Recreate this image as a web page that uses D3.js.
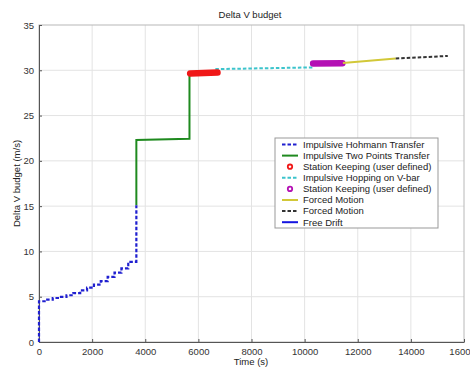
<!DOCTYPE html>
<html>
<head>
<meta charset="utf-8">
<script src="https://cdn.jsdelivr.net/npm/d3@7"></script>
<style>
  html, body { margin: 0; padding: 0; background: #fff; }
  svg { display: block; font-family: "Liberation Sans", Arial, sans-serif; }
</style>
</head>
<body>
<svg id="chart" width="470" height="369"></svg>
<script>
// Delta-V budget accumulated over the mission timeline (time in s, budget in m/s)

const xTicks = [0, 2000, 4000, 6000, 8000, 10000, 12000, 14000, 16000];
const xTickLabels = ["0", "2000", "4000", "6000", "8000", "10000", "12000", "14000", "1600"];
const yTicks = [0, 5, 10, 15, 20, 25, 30, 35];
const yTickLabels = ["0", "5", "10", "15", "20", "25", "30", "35"];

// Impulsive Hohmann transfer: staircase of small burns, then the final jump
const hohmannT = [0, 0, 258, 517, 775, 1034, 1292, 1551, 1809, 2068, 2326, 2585, 2843, 3102, 3360, 3665, 3665];
const hohmannV = [0, 4.5, 4.68, 4.86, 4.98, 5.16, 5.4, 5.7, 6.0, 6.34, 6.72, 7.2, 7.67, 8.12, 8.85, 8.85, 15.1];

// Impulsive two points transfer
const twoPointT = [3665, 3665, 5665, 5665];
const twoPointV = [15.1, 22.3, 22.45, 29.65];

// Station keeping (user defined), first hold
const keep1T = [5690, 6720];
const keep1V = [29.65, 29.75];

// Impulsive hopping on V-bar
const hoppingT = [6640, 10350];
const hoppingV = [30.13, 30.32];

// Station keeping (user defined), second hold
const keep2T = [10320, 11420];
const keep2V = [30.76, 30.78];

// Forced motion, first leg
const forced1T = [11440, 13430];
const forced1V = [30.8, 31.3];

// Forced motion, second leg
const forced2T = [13430, 15390];
const forced2V = [31.3, 31.58];

const legendLabels = [
  "Impulsive Hohmann Transfer",
  "Impulsive Two Points Transfer",
  "Station Keeping (user defined)",
  "Impulsive Hopping on V-bar",
  "Station Keeping (user defined)",
  "Forced Motion",
  "Forced Motion",
  "Free Drift"
];

const svg = d3.select("#chart");
const m = { left: 39, top: 25, right: 464, bottom: 342 };

const x = d3.scaleLinear().domain([0, 16000]).range([m.left, m.right]);
const y = d3.scaleLinear().domain([0, 35]).range([m.bottom, m.top]);

// grid
const grid = svg.append("g");
grid.selectAll("line.gx").data(xTicks.slice(1, -1)).join("line")
  .attr("x1", d => x(d)).attr("x2", d => x(d))
  .attr("y1", m.top).attr("y2", m.bottom)
  .attr("stroke", "#e3e3e3").attr("stroke-width", 1);
grid.selectAll("line.gy").data(yTicks.slice(1, -1)).join("line")
  .attr("x1", m.left).attr("x2", m.right)
  .attr("y1", d => y(d)).attr("y2", d => y(d))
  .attr("stroke", "#e3e3e3").attr("stroke-width", 1);

// axes box
svg.append("rect")
  .attr("x", m.left).attr("y", m.top)
  .attr("width", m.right - m.left).attr("height", m.bottom - m.top)
  .attr("fill", "none").attr("stroke", "#b8b8b8").attr("stroke-width", 1);

const xAxis = svg.append("g")
  .attr("transform", `translate(0,${m.bottom})`)
  .call(d3.axisBottom(x).tickValues(xTicks)
    .tickFormat((d, i) => xTickLabels[i]).tickSizeInner(-3).tickSizeOuter(0).tickPadding(6));
xAxis.select(".domain").attr("stroke", "#555");
xAxis.selectAll(".tick line").attr("stroke", "#555");
xAxis.selectAll("text").attr("font-size", 9.5).attr("fill", "#333")
  .attr("font-family", "Liberation Sans, Arial, sans-serif");
// the last label sits against the right edge of the page
xAxis.selectAll(".tick text").filter(d => d === xTicks[xTicks.length - 1])
  .attr("text-anchor", "end").attr("x", 470 - x(xTicks[xTicks.length - 1]));

const yAxis = svg.append("g")
  .attr("transform", `translate(${m.left},0)`)
  .call(d3.axisLeft(y).tickValues(yTicks)
    .tickFormat((d, i) => yTickLabels[i]).tickSizeInner(-3).tickSizeOuter(0).tickPadding(5));
yAxis.select(".domain").attr("stroke", "#555");
yAxis.selectAll(".tick line").attr("stroke", "#555");
yAxis.selectAll("text").attr("font-size", 9.5).attr("fill", "#333")
  .attr("font-family", "Liberation Sans, Arial, sans-serif");

// labels
svg.append("text").attr("x", 250).attr("y", 18).attr("text-anchor", "middle")
  .attr("font-size", 9.5).attr("fill", "#222").text("Delta V budget");
svg.append("text").attr("x", 251).attr("y", 365).attr("text-anchor", "middle")
  .attr("font-size", 9.5).attr("fill", "#222").text("Time (s)");
svg.append("text")
  .attr("transform", `translate(20,${(m.top + m.bottom) / 2}) rotate(-90)`)
  .attr("text-anchor", "middle").attr("font-size", 9.5).attr("fill", "#222")
  .text("Delta V budget (m/s)");

// series
const zip = (ts, vs) => ts.map((t, i) => [t, vs[i]]);
const linear = d3.line().x(d => x(d[0])).y(d => y(d[1]));
const stepped = d3.line().x(d => x(d[0])).y(d => y(d[1])).curve(d3.curveStepAfter);

const plot = svg.append("g");

plot.append("path").datum(zip(twoPointT, twoPointV))
  .attr("d", linear).attr("fill", "none")
  .attr("stroke", "#1f8a1f").attr("stroke-width", 2);

plot.append("path").datum(zip(hohmannT, hohmannV))
  .attr("d", stepped).attr("fill", "none")
  .attr("stroke", "#2020d0").attr("stroke-width", 2.2).attr("stroke-dasharray", "3.5,2");

plot.append("path").datum(zip(hoppingT, hoppingV))
  .attr("d", linear).attr("fill", "none")
  .attr("stroke", "#3cc4cc").attr("stroke-width", 2).attr("stroke-dasharray", "3.5,2");

plot.append("path").datum(zip(keep1T, keep1V))
  .attr("d", linear).attr("fill", "none")
  .attr("stroke", "#f01818").attr("stroke-width", 6.5).attr("stroke-linecap", "round");

plot.append("path").datum(zip(keep2T, keep2V))
  .attr("d", linear).attr("fill", "none")
  .attr("stroke", "#b410b4").attr("stroke-width", 6.5).attr("stroke-linecap", "round");

plot.append("path").datum(zip(forced1T, forced1V))
  .attr("d", linear).attr("fill", "none")
  .attr("stroke", "#d2c838").attr("stroke-width", 2);

plot.append("path").datum(zip(forced2T, forced2V))
  .attr("d", linear).attr("fill", "none")
  .attr("stroke", "#333").attr("stroke-width", 2).attr("stroke-dasharray", "3.5,2");

// legend
const legendStyles = [
  { kind: "line", color: "#2020d0", dash: "3.5,2" },
  { kind: "line", color: "#1f8a1f", dash: null },
  { kind: "mark", color: "#f01818" },
  { kind: "line", color: "#3cc4cc", dash: "3.5,2" },
  { kind: "mark", color: "#b410b4" },
  { kind: "line", color: "#d2c838", dash: null },
  { kind: "line", color: "#333", dash: "3.5,2" },
  { kind: "line", color: "#1414e0", dash: null }
];

const lg = svg.append("g").attr("transform", "translate(275,138)");
lg.append("rect").attr("width", 163).attr("height", 90)
  .attr("fill", "#fff").attr("stroke", "#999").attr("stroke-width", 1);

const rows = lg.selectAll("g.row").data(legendLabels).join("g")
  .attr("transform", (d, i) => `translate(0,${6.5 + i * 11.1})`);

rows.each(function (d, i) {
  const g = d3.select(this);
  const s = legendStyles[i];
  if (s.kind === "line") {
    g.append("line").attr("x1", 7).attr("x2", 23).attr("y1", 0).attr("y2", 0)
      .attr("stroke", s.color).attr("stroke-width", 2)
      .attr("stroke-dasharray", s.dash);
  } else {
    g.append("circle").attr("cx", 15).attr("cy", 0).attr("r", 2.2)
      .attr("fill", "none").attr("stroke", s.color).attr("stroke-width", 1.8);
  }
  g.append("text").attr("x", 28).attr("y", 3.3)
    .attr("font-size", 9.5).attr("fill", "#222").text(d);
});
</script>
</body>
</html>
